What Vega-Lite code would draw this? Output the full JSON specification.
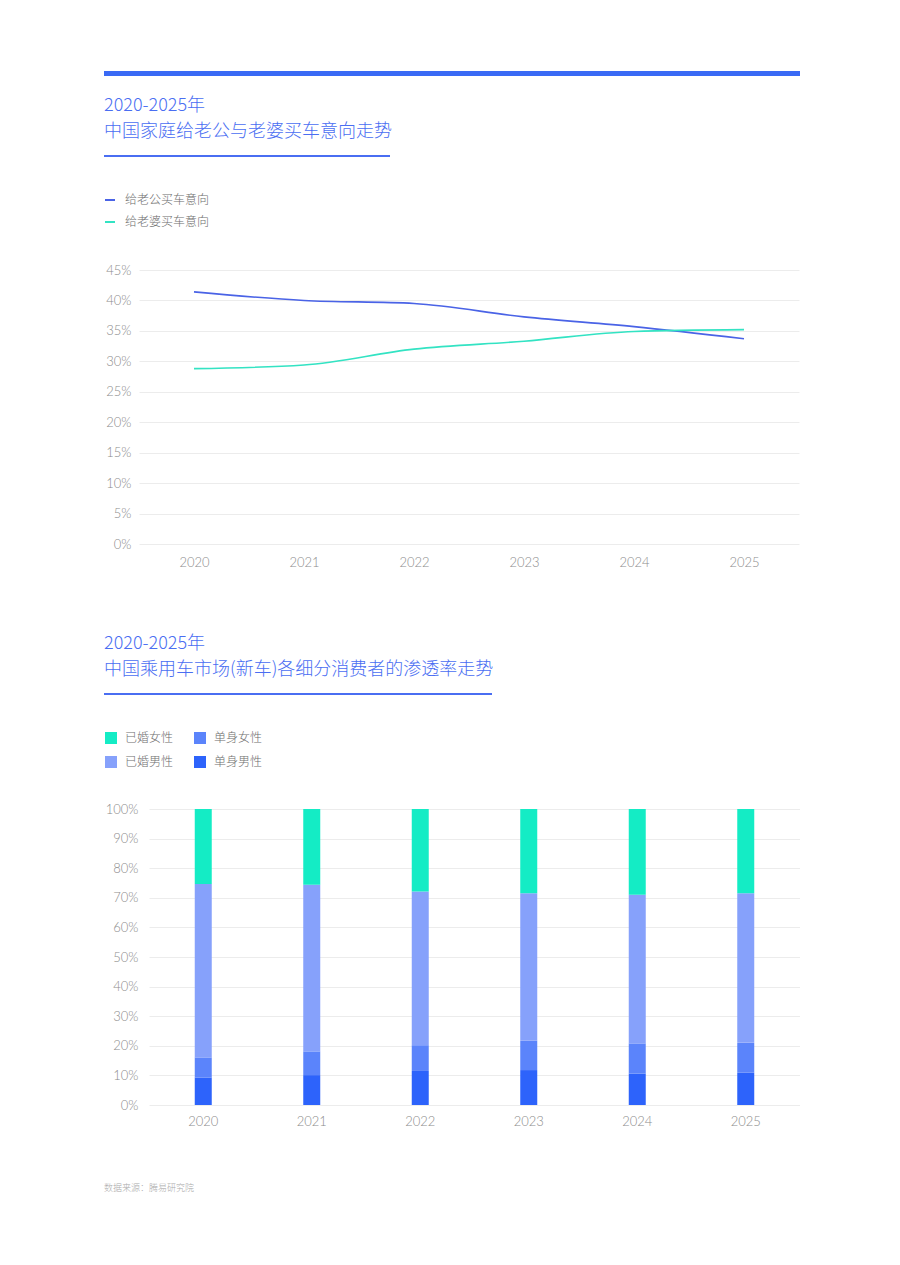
{
  "$schema": "https://vega.github.io/schema/vega-lite/v6.json",
  "background": "white",
  "padding": {"left": 104, "top": 71, "right": 0, "bottom": 0},
  "config": {
    "view": {"stroke": null},
    "font": "Noto Sans CJK SC",
    "axis": {
      "labelFont": "Lato, Noto Sans CJK SC",
      "labelFontWeight": 300,
      "labelColor": "#8c8c8c",
      "labelFontSize": 13,
      "domain": false,
      "ticks": false,
      "gridColor": "#ececec",
      "title": null
    },
    "legend": {
      "labelFont": "Noto Sans CJK SC",
      "labelColor": "#6e6e6e",
      "labelFontSize": 12,
      "labelFontWeight": 300,
      "title": null
    },
    "title": {
      "anchor": "start",
      "color": "#4a6ef2",
      "font": "Noto Sans CJK SC",
      "fontSize": 18,
      "fontWeight": 300,
      "lineHeight": 26
    }
  },
  "datasets": {
    "intent": [
      {"year": "2020", "series": "给老公买车意向", "value": 0.414},
      {"year": "2021", "series": "给老公买车意向", "value": 0.400},
      {"year": "2022", "series": "给老公买车意向", "value": 0.395},
      {"year": "2023", "series": "给老公买车意向", "value": 0.373},
      {"year": "2024", "series": "给老公买车意向", "value": 0.357},
      {"year": "2025", "series": "给老公买车意向", "value": 0.337},
      {"year": "2020", "series": "给老婆买车意向", "value": 0.288},
      {"year": "2021", "series": "给老婆买车意向", "value": 0.294},
      {"year": "2022", "series": "给老婆买车意向", "value": 0.320},
      {"year": "2023", "series": "给老婆买车意向", "value": 0.333},
      {"year": "2024", "series": "给老婆买车意向", "value": 0.349},
      {"year": "2025", "series": "给老婆买车意向", "value": 0.352}
    ],
    "share": [
      {"year": "2020", "seg": "单身男性", "status": "单身", "value": 0.093},
      {"year": "2020", "seg": "单身女性", "status": "单身", "value": 0.067},
      {"year": "2020", "seg": "已婚男性", "status": "已婚", "value": 0.587},
      {"year": "2020", "seg": "已婚女性", "status": "已婚", "value": 0.253},
      {"year": "2021", "seg": "单身男性", "status": "单身", "value": 0.101},
      {"year": "2021", "seg": "单身女性", "status": "单身", "value": 0.080},
      {"year": "2021", "seg": "已婚男性", "status": "已婚", "value": 0.563},
      {"year": "2021", "seg": "已婚女性", "status": "已婚", "value": 0.256},
      {"year": "2022", "seg": "单身男性", "status": "单身", "value": 0.115},
      {"year": "2022", "seg": "单身女性", "status": "单身", "value": 0.087},
      {"year": "2022", "seg": "已婚男性", "status": "已婚", "value": 0.519},
      {"year": "2022", "seg": "已婚女性", "status": "已婚", "value": 0.279},
      {"year": "2023", "seg": "单身男性", "status": "单身", "value": 0.118},
      {"year": "2023", "seg": "单身女性", "status": "单身", "value": 0.099},
      {"year": "2023", "seg": "已婚男性", "status": "已婚", "value": 0.498},
      {"year": "2023", "seg": "已婚女性", "status": "已婚", "value": 0.285},
      {"year": "2024", "seg": "单身男性", "status": "单身", "value": 0.106},
      {"year": "2024", "seg": "单身女性", "status": "单身", "value": 0.102},
      {"year": "2024", "seg": "已婚男性", "status": "已婚", "value": 0.502},
      {"year": "2024", "seg": "已婚女性", "status": "已婚", "value": 0.290},
      {"year": "2025", "seg": "单身男性", "status": "单身", "value": 0.109},
      {"year": "2025", "seg": "单身女性", "status": "单身", "value": 0.101},
      {"year": "2025", "seg": "已婚男性", "status": "已婚", "value": 0.505},
      {"year": "2025", "seg": "已婚女性", "status": "已婚", "value": 0.285}
    ]
  },
  "resolve": {
    "scale": {"color": "independent", "x": "independent", "y": "independent"},
    "legend": {"color": "independent"},
    "axis": {"x": "independent", "y": "independent"}
  },
  "spacing": 0,
  "vconcat": [
    {
      "data": {"values": []},
      "mark": "point",
      "width": 696,
      "height": 5,
      "view": {"fill": "#3a6af5", "stroke": null}
    },
    {"data": {"values": []}, "mark": "point", "width": 1, "height": 21},
    {
      "data": {"values": []},
      "mark": "point",
      "width": 286,
      "height": 2,
      "view": {"fill": "#4a6ef2", "stroke": null},
      "title": {"text": ["2020-2025年", "中国家庭给老公与老婆买车意向走势"], "offset": 14}
    },
    {"data": {"values": []}, "mark": "point", "width": 1, "height": 37},
    {
      "spacing": 0,
      "hconcat": [
        {"data": {"values": []}, "mark": "point", "width": 1, "height": 1},
        {
          "data": {"name": "intent"},
          "width": 660,
          "height": 274,
          "mark": {"type": "line", "interpolate": "monotone", "strokeWidth": 1.6},
          "encoding": {
            "x": {
              "field": "year",
              "type": "ordinal",
              "scale": {"type": "point", "padding": 0.5},
              "axis": {"labelAngle": 0, "grid": false, "labelPadding": 12}
            },
            "y": {
              "field": "value",
              "type": "quantitative",
              "scale": {"domain": [0, 0.45], "nice": false},
              "axis": {"values": [0, 0.05, 0.1, 0.15, 0.2, 0.25, 0.3, 0.35, 0.4, 0.45], "format": ".0%", "labelPadding": 8}
            },
            "color": {
              "field": "series",
              "type": "nominal",
              "sort": ["给老公买车意向", "给老婆买车意向"],
              "scale": {"range": ["#4a63e6", "#33e3c3"]},
              "legend": {
                "orient": "none",
                "legendX": 0,
                "legendY": -76,
                "symbolType": "stroke",
                "symbolSize": 100,
                "symbolStrokeWidth": 2,
                "rowPadding": 10,
                "labelOffset": 9
              }
            }
          }
        }
      ]
    },
    {"data": {"values": []}, "mark": "point", "width": 1, "height": 66},
    {
      "data": {"values": []},
      "mark": "point",
      "width": 388,
      "height": 2,
      "view": {"fill": "#4a6ef2", "stroke": null},
      "title": {"text": ["2020-2025年", "中国乘用车市场(新车)各细分消费者的渗透率走势"], "offset": 14}
    },
    {"data": {"values": []}, "mark": "point", "width": 1, "height": 36},
    {
      "spacing": 0,
      "hconcat": [
        {"data": {"values": []}, "mark": "point", "width": 1, "height": 1},
        {
          "data": {"name": "share"},
          "width": 651,
          "height": 296,
          "mark": {"type": "bar", "width": 17},
          "encoding": {
            "x": {
              "field": "year",
              "type": "ordinal",
              "axis": {"labelAngle": 0, "grid": false, "labelPadding": 10}
            },
            "y": {
              "field": "value",
              "type": "quantitative",
              "stack": "zero",
              "scale": {"domain": [0, 1], "nice": false},
              "axis": {"values": [0, 0.1, 0.2, 0.3, 0.4, 0.5, 0.6, 0.7, 0.8, 0.9, 1], "format": ".0%", "labelPadding": 11}
            },
            "color": {
              "field": "seg",
              "type": "nominal",
              "sort": ["已婚女性", "已婚男性", "单身女性", "单身男性"],
              "scale": {"range": ["#14ecc5", "#86a1fb", "#5b84fb", "#2d63fb"]},
              "legend": {
                "orient": "none",
                "legendX": 0,
                "legendY": -78,
                "columns": 2,
                "symbolType": "square",
                "symbolSize": 144,
                "symbolOpacity": 1,
                "columnPadding": 19,
                "rowPadding": 11,
                "labelOffset": 7
              }
            },
            "order": {"field": "status", "sort": "ascending"}
          }
        }
      ]
    },
    {"data": {"values": []}, "mark": "point", "width": 1, "height": 56},
    {
      "data": {"values": []},
      "mark": "point",
      "width": 200,
      "height": 1,
      "title": {"text": "数据来源：腾易研究院", "fontSize": 9, "color": "#aaaaaa", "offset": 2}
    }
  ]
}
